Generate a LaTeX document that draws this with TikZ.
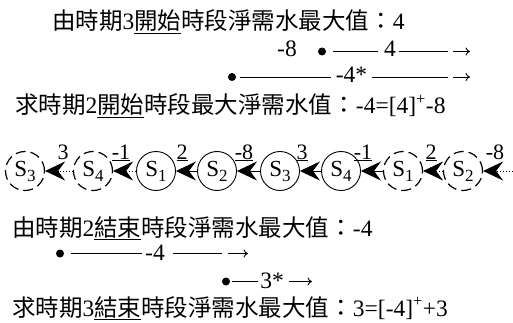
\documentclass[tikz,border=0pt]{standalone}
\usepackage{fontspec}
\setmainfont{Liberation Serif}
\newfontfamily\cjk[Scale=1.0]{Noto Sans CJK TC}
\usetikzlibrary{arrows.meta,calc}
\newcommand{\Sn}[1]{S\raisebox{-5pt}{\fontsize{17}{17}\selectfont #1}}
\begin{document}
\begin{tikzpicture}[x=1pt,y=-1pt,
  txt/.style={inner sep=0pt, anchor=base west, font=\fontsize{23.5}{26}\selectfont},
  lab/.style={inner sep=0pt, anchor=base, font=\fontsize{23.5}{26}\selectfont},
  clab/.style={inner sep=0pt, anchor=base, font=\fontsize{22}{24}\selectfont},
  dotn/.style={circle, fill=black, inner sep=0pt, minimum size=8pt},
  rl/.style={line width=0.9pt},
  rarr/.style={line width=0.9pt, -{To[length=4.5pt,width=8pt]}},
  st/.style={circle, draw, minimum size=39pt, inner sep=0pt, line width=0.9pt, font=\fontsize{23}{25}\selectfont},
  dsh/.style={st, dash pattern=on 10pt off 5pt, line width=1.2pt},
  arr/.style={line width=0.9pt, -{Stealth[length=20pt,width=19pt,inset=7pt]}},
  dots/.style={dash pattern=on 1pt off 2pt}
]
\useasboundingbox (0,0) rectangle (513,323);

% line 1
\node[txt] (t1) at (52,30) {{\cjk 由時期}3\underline{\cjk 開始}{\cjk 時段淨需水最大值：}4};
% row 2
\node[txt] (r2m) at (277,57) {-8};
\node[dotn] (r2d) at (322,51.5) {};
\node[lab] (r2l) at (390,57) {4};
\coordinate (r2e) at (470,51.5);
\draw[rl] ([xshift=7pt]r2d.east) -- ([xshift=-6pt]r2d -| r2l.west);
\draw[rl] ([xshift=3pt]r2d -| r2l.east) -- ([xshift=-22pt]r2e);
\draw[rarr] ([xshift=-17pt]r2e) -- (r2e);
% row 3
\node[dotn] (r3d) at (232,77) {};
\node[lab] (r3l) at (351.5,83) {-4*};
\coordinate (r3e) at (470,77);
\draw[rl] ([xshift=4pt]r3d.east) -- ([xshift=-5pt]r3d -| r3l.west);
\draw[rl] ([xshift=5pt]r3d -| r3l.east) -- ([xshift=-22pt]r3e);
\draw[rarr] ([xshift=-17pt]r3e) -- (r3e);
% line 4
\node[txt] (t4) at (15,114) {{\cjk 求時期}2\underline{\cjk 開始}{\cjk 時段最大淨需水值：}-4=[4]\textsuperscript{+}-8};

% chain
\node[dsh] (c1) at (25,171) {\Sn{3}};
\node[dsh] (c2) at (93,171) {\Sn{4}};
\node[st]  (c3) at (156,171) {\Sn{1}};
\node[st]  (c4) at (217,171) {\Sn{2}};
\node[st]  (c5) at (280,171) {\Sn{3}};
\node[st]  (c6) at (341,171) {\Sn{4}};
\node[dsh] (c7) at (403,171) {\Sn{1}};
\node[dsh] (c8) at (463,171) {\Sn{2}};
\coordinate (cend) at (513,171);
\draw[arr,dots] (c2) -- (c1);
\draw[arr,dots] (c3) -- (c2);
\draw[arr] (c4) -- (c3);
\draw[arr] (c5) -- (c4);
\draw[arr] (c6) -- (c5);
\draw[arr] (c7) -- (c6);
\draw[arr,dots] (c8) -- (c7);
\draw[arr,dots] (cend) -- (c8);
\node[clab] (g1) at (63,159) {3};
\node[clab] (g2) at (121,159) {\underline{-1}};
\node[clab] (g3) at (182,159) {\underline{2}};
\node[clab] (g4) at (244,159) {\underline{-8}};
\node[clab] (g5) at (302,159) {\underline{3}};
\node[clab] (g6) at (363,159) {\underline{-1}};
\node[clab] (g7) at (431,159) {\underline{2}};
\node[clab] (g8) at (495,159) {-8};

% line 5
\node[txt] (t5) at (12,236) {{\cjk 由時期}2\underline{\cjk 結束}{\cjk 時段淨需水最大值：}-4};
% row 6
\node[dotn] (r6d) at (60,253.5) {};
\node[lab] (r6l) at (155,260) {-4};
\coordinate (r6e) at (248,253.5);
\draw[rl] ([xshift=7pt]r6d.east) -- ([xshift=-3pt]r6d -| r6l.west);
\draw[rl] ([xshift=8pt]r6d -| r6l.east) -- ([xshift=-26pt]r6e);
\draw[rarr] ([xshift=-20pt]r6e) -- (r6e);
% row 7
\node[dotn] (r7d) at (226,281.5) {};
\node[lab] (r7l) at (272,288) {3*};
\coordinate (r7e) at (312,281.5);
\draw[rl] ([xshift=2pt]r7d.east) -- ([xshift=-2pt]r7d -| r7l.west);
\draw[rarr] ([xshift=5pt]r7d -| r7l.east) -- (r7e);
% line 8
\node[txt] (t8) at (12,316) {{\cjk 求時期}3\underline{\cjk 結束}{\cjk 時段淨需水最大值：}3=[-4]\textsuperscript{+}+3};
\end{tikzpicture}
\end{document}
